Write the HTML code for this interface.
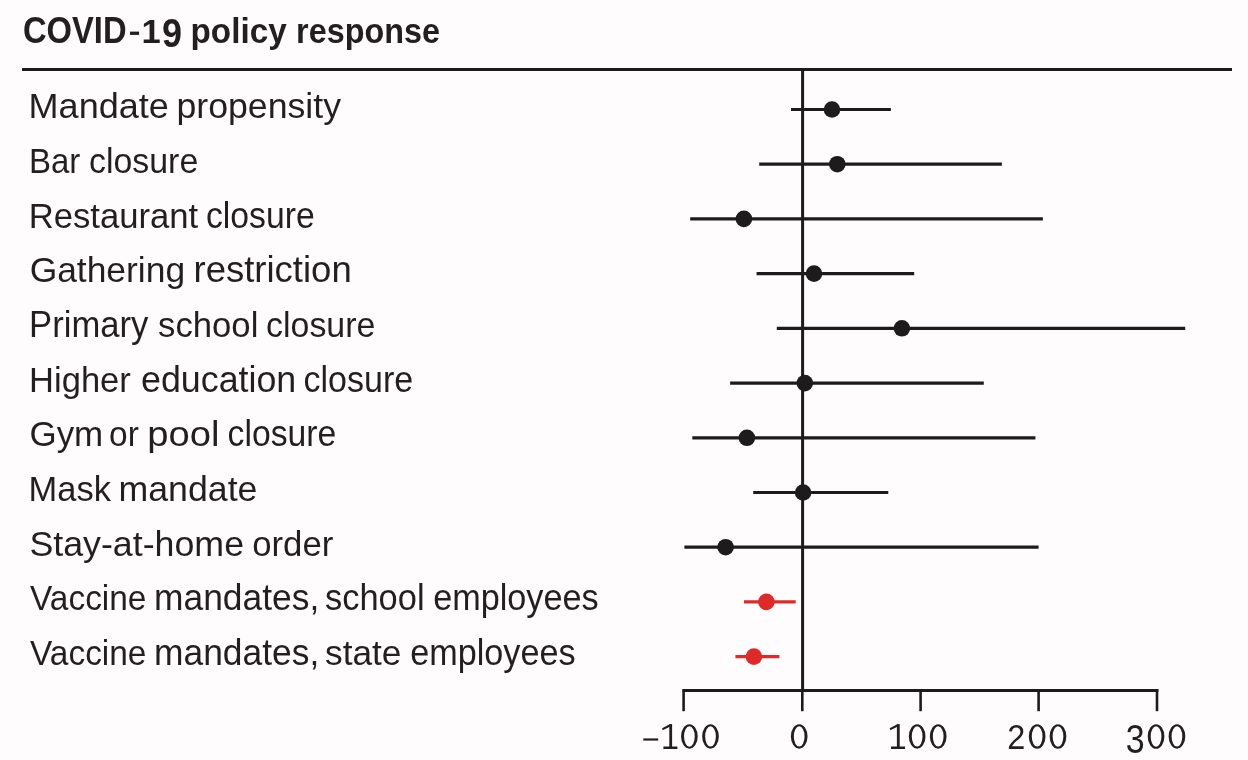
<!DOCTYPE html>
<html><head><meta charset="utf-8"><style>
html,body{margin:0;padding:0;background:#fefcfd;}
body{width:1248px;height:760px;overflow:hidden;}
svg{display:block;will-change:transform;}
text{font-family:"Liberation Sans",sans-serif;fill:#231f20;stroke:none;}
.lab{font-size:36px;}
.ttl{font-size:36px;font-weight:bold;}
.g{font-size:36px;stroke:none;}
</style></head><body>
<svg width="1248" height="760" viewBox="0 0 1248 760">
<line x1="22" y1="69.5" x2="1232" y2="69.5" stroke="#1d1b1b" stroke-width="3"/>
<line x1="802.6" y1="68" x2="802.6" y2="692" stroke="#1d1b1b" stroke-width="3"/>
<line x1="682.6" y1="690.5" x2="1158.4" y2="690.5" stroke="#1d1b1b" stroke-width="2.8"/>
<line x1="683.6" y1="689.2" x2="683.6" y2="711.2" stroke="#1d1b1b" stroke-width="2.6"/>
<line x1="802.3" y1="689.2" x2="802.3" y2="711.2" stroke="#1d1b1b" stroke-width="2.6"/>
<line x1="920.6" y1="689.2" x2="920.6" y2="711.2" stroke="#1d1b1b" stroke-width="2.6"/>
<line x1="1038.6" y1="689.2" x2="1038.6" y2="711.2" stroke="#1d1b1b" stroke-width="2.6"/>
<line x1="1157.0" y1="689.2" x2="1157.0" y2="711.2" stroke="#1d1b1b" stroke-width="2.6"/>
<line x1="791" y1="109.5" x2="890.9" y2="109.5" stroke="#1d1b1b" stroke-width="3.2"/>
<circle cx="832" cy="109.5" r="8.3" fill="#1d1b1b"/>
<text transform="translate(28.60,118.10) scale(1.0015,1)" class="lab">Mandate</text>
<text transform="translate(176.42,118.10) scale(0.9915,1)" class="lab">propensity</text>
<line x1="759.2" y1="164.2" x2="1001.9" y2="164.2" stroke="#1d1b1b" stroke-width="3.2"/>
<circle cx="837.3" cy="164.2" r="8.3" fill="#1d1b1b"/>
<text transform="translate(28.95,172.81) scale(0.9170,1)" class="lab">Bar</text>
<text transform="translate(88.96,172.81) scale(0.9421,1)" class="lab">closure</text>
<line x1="690.2" y1="218.9" x2="1042.9" y2="218.9" stroke="#1d1b1b" stroke-width="3.2"/>
<circle cx="743.9" cy="218.9" r="8.3" fill="#1d1b1b"/>
<text transform="translate(28.71,227.52) scale(0.9630,1)" class="lab">Restaurant</text>
<text transform="translate(205.96,227.52) scale(0.9368,1)" class="lab">closure</text>
<line x1="756.6" y1="273.6" x2="914.2" y2="273.6" stroke="#1d1b1b" stroke-width="3.2"/>
<circle cx="814" cy="273.6" r="8.3" fill="#1d1b1b"/>
<text transform="translate(29.63,282.23) scale(0.9838,1)" class="lab">Gathering</text>
<text transform="translate(193.47,282.23) scale(1.0145,1)" class="lab">restriction</text>
<line x1="776.8" y1="328.3" x2="1185.2" y2="328.3" stroke="#1d1b1b" stroke-width="3.2"/>
<circle cx="901.9" cy="328.3" r="8.3" fill="#1d1b1b"/>
<text transform="translate(29.11,336.94) scale(0.9620,1)" class="lab">Primary</text>
<text transform="translate(158.04,336.94) scale(0.9644,1)" class="lab">school</text>
<text transform="translate(266.06,336.94) scale(0.9421,1)" class="lab">closure</text>
<line x1="730.1" y1="383.1" x2="983.8" y2="383.1" stroke="#1d1b1b" stroke-width="3.2"/>
<circle cx="804.8" cy="383.1" r="8.3" fill="#1d1b1b"/>
<text transform="translate(29.12,391.65) scale(0.9592,1)" class="lab">Higher</text>
<text transform="translate(141.01,391.65) scale(0.9948,1)" class="lab">education</text>
<text transform="translate(303.56,391.65) scale(0.9447,1)" class="lab">closure</text>
<line x1="692.3" y1="437.8" x2="1035.4" y2="437.8" stroke="#1d1b1b" stroke-width="3.2"/>
<circle cx="746.9" cy="437.8" r="8.3" fill="#1d1b1b"/>
<text transform="translate(29.46,446.36) scale(0.9708,1)" class="lab">Gym</text>
<text transform="translate(109.07,446.36) scale(0.9290,1)" class="lab">or</text>
<text transform="translate(147.28,446.36) scale(1.0609,1)" class="lab">pool</text>
<text transform="translate(227.56,446.36) scale(0.9368,1)" class="lab">closure</text>
<line x1="753.2" y1="492.5" x2="888.3" y2="492.5" stroke="#1d1b1b" stroke-width="3.2"/>
<circle cx="803.1" cy="492.5" r="8.3" fill="#1d1b1b"/>
<text transform="translate(28.53,501.07) scale(0.9578,1)" class="lab">Mask</text>
<text transform="translate(118.52,501.07) scale(0.9920,1)" class="lab">mandate</text>
<line x1="684.4" y1="547.2" x2="1038.6" y2="547.2" stroke="#1d1b1b" stroke-width="3.2"/>
<circle cx="725.6" cy="547.2" r="8.3" fill="#1d1b1b"/>
<text transform="translate(29.41,555.78) scale(0.9934,1)" class="lab">Stay-at-home</text>
<text transform="translate(252.23,555.78) scale(0.9651,1)" class="lab">order</text>
<line x1="744.0" y1="601.9" x2="795.7" y2="601.9" stroke="#de2b2a" stroke-width="3.2"/>
<circle cx="766.4" cy="601.9" r="8.3" fill="#de2b2a"/>
<text transform="translate(30.00,610.49) scale(0.9290,1)" class="lab">Vaccine</text>
<text transform="translate(154.03,610.49) scale(0.9834,1)" class="lab">mandates,</text>
<text transform="translate(325.04,610.49) scale(0.9564,1)" class="lab">school</text>
<text transform="translate(433.15,610.49) scale(0.9506,1)" class="lab">employees</text>
<line x1="735.4" y1="656.6" x2="779.4" y2="656.6" stroke="#de2b2a" stroke-width="3.2"/>
<circle cx="753.9" cy="656.6" r="8.3" fill="#de2b2a"/>
<text transform="translate(30.00,665.20) scale(0.9290,1)" class="lab">Vaccine</text>
<text transform="translate(154.03,665.20) scale(0.9834,1)" class="lab">mandates,</text>
<text transform="translate(325.02,665.20) scale(0.9803,1)" class="lab">state</text>
<text transform="translate(410.15,665.20) scale(0.9500,1)" class="lab">employees</text>
<text transform="translate(22.99,43.20) scale(0.9089,1.0308)" class="ttl">COVID</text>
<rect x="130.0" y="31.6" width="9.1" height="3.3" fill="#231f20"/>
<text transform="translate(141.48,42.60) scale(0.9588,0.9308)" class="ttl">1</text>
<text transform="translate(162.00,47.30) scale(1.0000,1.1115)" class="ttl">9</text>
<text transform="translate(190.55,42.80) scale(0.9245,1)" class="ttl">policy</text>
<text transform="translate(296.10,42.80) scale(0.8987,1)" class="ttl">response</text>
<rect x="643.3" y="738.4" width="14.9" height="2.2" fill="#231f20"/>
<rect x="669.30" y="724.20" width="2.8" height="23.80" fill="#231f20"/>
<polygon points="672.10,724.20 669.60,724.20 662.10,728.20 662.70,730.30 669.30,727.10" fill="#231f20"/>
<rect x="663.40" y="746.50" width="14.0" height="2.5" fill="#231f20"/>
<path d="M681.05,736.45a8.35,12.25 0 1,0 16.70,0a8.35,12.25 0 1,0 -16.70,0zM684.05,736.45a5.35,10.15 0 1,0 10.70,0a5.35,10.15 0 1,0 -10.70,0z" fill="#231f20" fill-rule="evenodd"/>
<path d="M702.15,736.45a8.35,12.25 0 1,0 16.70,0a8.35,12.25 0 1,0 -16.70,0zM705.15,736.45a5.35,10.15 0 1,0 10.70,0a5.35,10.15 0 1,0 -10.70,0z" fill="#231f20" fill-rule="evenodd"/>
<path d="M790.85,736.45a8.35,12.25 0 1,0 16.70,0a8.35,12.25 0 1,0 -16.70,0zM793.85,736.45a5.35,10.15 0 1,0 10.70,0a5.35,10.15 0 1,0 -10.70,0z" fill="#231f20" fill-rule="evenodd"/>
<rect x="896.90" y="724.20" width="2.8" height="23.80" fill="#231f20"/>
<polygon points="899.70,724.20 897.20,724.20 889.70,728.20 890.30,730.30 896.90,727.10" fill="#231f20"/>
<rect x="891.00" y="746.50" width="14.0" height="2.5" fill="#231f20"/>
<path d="M908.80,736.45a8.35,12.25 0 1,0 16.70,0a8.35,12.25 0 1,0 -16.70,0zM911.80,736.45a5.35,10.15 0 1,0 10.70,0a5.35,10.15 0 1,0 -10.70,0z" fill="#231f20" fill-rule="evenodd"/>
<path d="M929.85,736.45a8.35,12.25 0 1,0 16.70,0a8.35,12.25 0 1,0 -16.70,0zM932.85,736.45a5.35,10.15 0 1,0 10.70,0a5.35,10.15 0 1,0 -10.70,0z" fill="#231f20" fill-rule="evenodd"/>
<text transform="translate(1007.37,748.80) scale(0.9024,0.9866)" class="g">2</text>
<path d="M1028.80,736.45a8.35,12.25 0 1,0 16.70,0a8.35,12.25 0 1,0 -16.70,0zM1031.80,736.45a5.35,10.15 0 1,0 10.70,0a5.35,10.15 0 1,0 -10.70,0z" fill="#231f20" fill-rule="evenodd"/>
<path d="M1049.65,736.45a8.35,12.25 0 1,0 16.70,0a8.35,12.25 0 1,0 -16.70,0zM1052.65,736.45a5.35,10.15 0 1,0 10.70,0a5.35,10.15 0 1,0 -10.70,0z" fill="#231f20" fill-rule="evenodd"/>
<text transform="translate(1125.71,752.90) scale(0.9433,1.1378)" class="g">3</text>
<path d="M1147.70,736.45a8.35,12.25 0 1,0 16.70,0a8.35,12.25 0 1,0 -16.70,0zM1150.70,736.45a5.35,10.15 0 1,0 10.70,0a5.35,10.15 0 1,0 -10.70,0z" fill="#231f20" fill-rule="evenodd"/>
<path d="M1168.60,736.45a8.35,12.25 0 1,0 16.70,0a8.35,12.25 0 1,0 -16.70,0zM1171.60,736.45a5.35,10.15 0 1,0 10.70,0a5.35,10.15 0 1,0 -10.70,0z" fill="#231f20" fill-rule="evenodd"/>
</svg>
</body></html>
